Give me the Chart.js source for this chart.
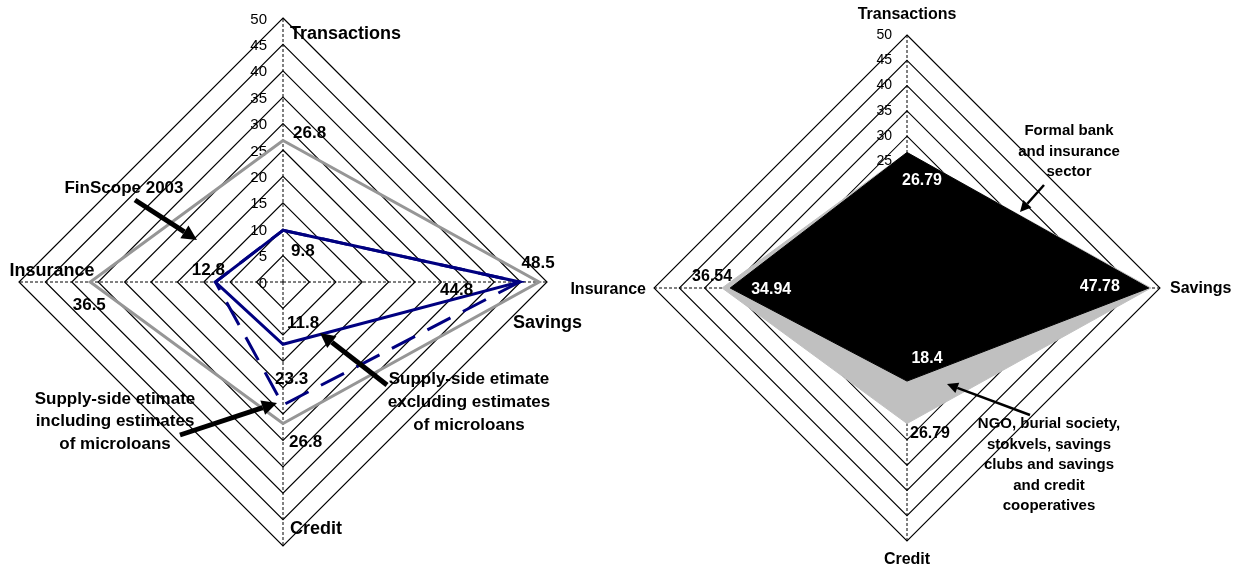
<!DOCTYPE html>
<html>
<head>
<meta charset="utf-8">
<script src="https://cdn.jsdelivr.net/npm/chart.js@4.4.0/dist/chart.umd.min.js"></script>
<style>
  html, body { margin: 0; padding: 0; background: #fff; }
  #left { position: absolute; left: 0; top: 0; width: 620px; height: 573px; }
  #right { position: absolute; left: 560px; top: 0; width: 689px; height: 573px; }
</style>
</head>
<body>
<div id="left"><canvas id="c1"></canvas></div>
<div id="right"><canvas id="c2"></canvas></div>
<script>
// axes, clockwise from the top
const categories = ["Transactions", "Savings", "Credit", "Insurance"];
const tickValues = [0, 5, 10, 15, 20, 25, 30, 35, 40, 45, 50];

// left panel
const finScope2003 = [26.8, 48.5, 26.8, 36.5];
const supplyExclMicroloans = [9.8, 44.8, 11.8, 12.8];
const supplyInclMicroloans = [9.8, 44.8, 23.3, 12.8];

// right panel
const formalBankInsurance = [26.79, 47.78, 18.4, 34.94];
const informalSector = [26.79, 48.2, 26.79, 36.54];

const FONT = '"Liberation Sans", Arial, sans-serif';

function drawArrow(ctx, x1, y1, x2, y2, w, head) {
    const a = Math.atan2(y2 - y1, x2 - x1);
    const bx = x2 - Math.cos(a) * head, by = y2 - Math.sin(a) * head;
    ctx.save();
    ctx.strokeStyle = "#000";
    ctx.fillStyle = "#000";
    ctx.lineWidth = w;
    ctx.beginPath();
    ctx.moveTo(x1, y1);
    ctx.lineTo(bx, by);
    ctx.stroke();
    ctx.beginPath();
    ctx.moveTo(x2, y2);
    ctx.lineTo(bx + Math.sin(a) * head * 0.5, by - Math.cos(a) * head * 0.5);
    ctx.lineTo(bx - Math.sin(a) * head * 0.5, by + Math.cos(a) * head * 0.5);
    ctx.closePath();
    ctx.fill();
    ctx.restore();
}

// tick labels, axis names, value labels, callouts
const extrasPlugin = {
    id: "extras",
    beforeDatasetsDraw(chart, args, opts) {
        const r = chart.scales.r;
        const ctx = chart.ctx;
        ctx.save();
        ctx.font = opts.tickFont;
        ctx.fillStyle = "#000";
        ctx.textAlign = "right";
        ctx.textBaseline = "middle";
        tickValues.forEach(v => {
            const p = r.getPointPositionForValue(0, v);
            ctx.fillText(String(v), p.x + opts.tickDx, p.y + opts.tickDy);
        });
        ctx.restore();
    },
    afterDatasetsDraw(chart, args, opts) {
        const r = chart.scales.r;
        const ctx = chart.ctx;
        const cx = r.xCenter, cy = r.yCenter;
        ctx.save();
        ctx.textBaseline = "middle";

        // axis names
        ctx.font = opts.axisFont;
        ctx.fillStyle = "#000";
        opts.axisLabels.forEach((o, i) => {
            const p = r.getPointPosition(i, r.drawingArea);
            ctx.textAlign = o.align;
            ctx.fillText(categories[i], p.x + o.dx, p.y + o.dy);
        });

        // value labels
        ctx.font = opts.valueFont;
        opts.valueLabels.forEach(o => {
            const el = chart.getDatasetMeta(o.ds).data[o.i];
            ctx.fillStyle = o.color || "#000";
            ctx.textAlign = o.align;
            ctx.fillText(String(chart.data.datasets[o.ds].data[o.i]), el.x + o.dx, el.y + o.dy);
        });

        // callout texts
        ctx.font = opts.noteFont;
        ctx.fillStyle = "#000";
        ctx.textAlign = "center";
        opts.notes.forEach(n => {
            n.lines.forEach((t, k) => ctx.fillText(t, cx + n.dx, cy + n.dy + k * n.lh));
        });
        ctx.restore();

        opts.arrows.forEach(a => {
            drawArrow(ctx, cx + a.from[0], cy + a.from[1], cx + a.to[0], cy + a.to[1], a.w, a.head);
        });
    }
};

function radarScale(lw) {
    return {
        r: {
            min: 0,
            max: 50,
            ticks: { display: false, stepSize: 5 },
            pointLabels: { display: false },
            grid: { color: "#000", lineWidth: lw },
            angleLines: { color: "#000", lineWidth: 1, borderDash: [3, 2] }
        }
    };
}

new Chart(document.getElementById("c1"), {
    type: "radar",
    plugins: [extrasPlugin],
    data: {
        labels: categories,
        datasets: [
            {
                label: "Supply-side etimate excluding estimates of microloans",
                data: supplyExclMicroloans,
                borderColor: "#000080",
                borderWidth: 3,
                fill: false
            },
            {
                label: "Supply-side etimate including estimates of microloans",
                data: supplyInclMicroloans,
                borderColor: "#000080",
                borderWidth: 3,
                borderDash: [26, 14],
                fill: false
            },
            {
                label: "FinScope 2003",
                data: finScope2003,
                borderColor: "#969696",
                borderWidth: 3,
                fill: false
            }
        ]
    },
    options: {
        responsive: true,
        maintainAspectRatio: false,
        animation: false,
        layout: { padding: { left: 19, top: 18, right: 73, bottom: 27 } },
        elements: { point: { radius: 0, hoverRadius: 0 }, line: { tension: 0 } },
        scales: radarScale(1.2),
        plugins: {
            legend: { display: false },
            tooltip: { enabled: false },
            extras: {
                tickFont: "15px " + FONT,
                tickDx: -16,
                tickDy: 1.5,
                axisFont: "bold 18px " + FONT,
                axisLabels: [
                    { dx: 7, dy: 16, align: "left" },
                    { dx: -34, dy: 41, align: "left" },
                    { dx: 7, dy: -17, align: "left" },
                    { dx: 33, dy: -11, align: "center" }
                ],
                valueFont: "bold 17px " + FONT,
                valueLabels: [
                    { ds: 2, i: 0, dx: 10, dy: -7, align: "left" },
                    { ds: 2, i: 1, dx: -1, dy: -19, align: "center" },
                    { ds: 2, i: 2, dx: 6, dy: 19, align: "left" },
                    { ds: 2, i: 3, dx: -1, dy: 23, align: "center" },
                    { ds: 0, i: 0, dx: 8, dy: 21, align: "left" },
                    { ds: 0, i: 1, dx: -63, dy: 8, align: "center" },
                    { ds: 0, i: 2, dx: 4, dy: -21, align: "left" },
                    { ds: 0, i: 3, dx: -7, dy: -12, align: "center" },
                    { ds: 1, i: 2, dx: -8, dy: -26, align: "left" }
                ],
                noteFont: "bold 17px " + FONT,
                notes: [
                    { lines: ["FinScope 2003"], dx: -159, dy: -94, lh: 0 },
                    { lines: ["Supply-side etimate", "including estimates", "of microloans"], dx: -168, dy: 117, lh: 22.5 },
                    { lines: ["Supply-side etimate", "excluding estimates", "of microloans"], dx: 186, dy: 97, lh: 23 }
                ],
                arrows: [
                    { from: [-148, -82], to: [-86, -42], w: 5, head: 15 },
                    { from: [-103, 153], to: [-6, 121], w: 5, head: 15 },
                    { from: [104, 103], to: [37, 51], w: 5, head: 15 }
                ]
            }
        }
    }
});

new Chart(document.getElementById("c2"), {
    type: "radar",
    plugins: [extrasPlugin],
    data: {
        labels: categories,
        datasets: [
            {
                label: "Formal bank and insurance sector",
                data: formalBankInsurance,
                borderColor: "#000",
                backgroundColor: "#000",
                borderWidth: 1,
                fill: true
            },
            {
                label: "NGO, burial society, stokvels, savings clubs and savings and credit cooperatives",
                data: informalSector,
                borderColor: "#c0c0c0",
                backgroundColor: "#c0c0c0",
                borderWidth: 1,
                fill: true
            }
        ]
    },
    options: {
        responsive: true,
        maintainAspectRatio: false,
        animation: false,
        layout: { padding: { left: 94, top: 35, right: 89, bottom: 32 } },
        elements: { point: { radius: 0, hoverRadius: 0 }, line: { tension: 0 } },
        scales: radarScale(1.1),
        plugins: {
            legend: { display: false },
            tooltip: { enabled: false },
            extras: {
                tickFont: "14px " + FONT,
                tickDx: -15,
                tickDy: 0,
                axisFont: "bold 16px " + FONT,
                axisLabels: [
                    { dx: 0, dy: -20, align: "center" },
                    { dx: 10, dy: 1, align: "left" },
                    { dx: 0, dy: 19, align: "center" },
                    { dx: -8, dy: 2, align: "right" }
                ],
                valueFont: "bold 16px " + FONT,
                valueLabels: [
                    { ds: 0, i: 0, dx: 15, dy: 28, align: "center", color: "#fff" },
                    { ds: 0, i: 1, dx: -49, dy: -1, align: "center", color: "#fff" },
                    { ds: 0, i: 2, dx: 20, dy: -23, align: "center", color: "#fff" },
                    { ds: 0, i: 3, dx: 41, dy: 2, align: "center", color: "#fff" },
                    { ds: 1, i: 2, dx: 23, dy: 10, align: "center" },
                    { ds: 1, i: 3, dx: -10, dy: -11, align: "center" }
                ],
                noteFont: "bold 15px " + FONT,
                notes: [
                    { lines: ["Formal bank", "and insurance", "sector"], dx: 162, dy: -157, lh: 20.5 },
                    { lines: ["NGO, burial society,", "stokvels, savings", "clubs and savings", "and credit", "cooperatives"], dx: 142, dy: 136, lh: 20.5 }
                ],
                arrows: [
                    { from: [137, -103], to: [113, -76], w: 2.5, head: 11 },
                    { from: [123, 127], to: [40, 96], w: 2.5, head: 11 }
                ]
            }
        }
    }
});
</script>
</body>
</html>
